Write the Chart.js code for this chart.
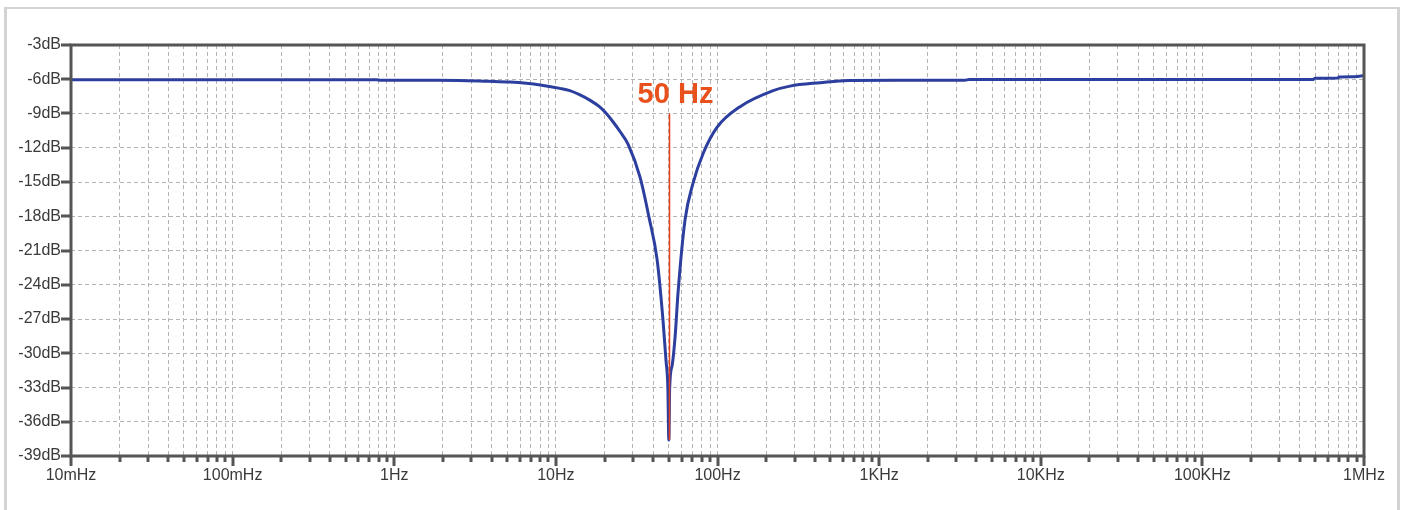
<!DOCTYPE html>
<html>
<head>
<meta charset="utf-8">
<script src="https://cdn.jsdelivr.net/npm/chart.js@4.4.1/dist/chart.umd.min.js"></script>
<style>
  html, body { margin: 0; padding: 0; background: #ffffff; overflow: hidden; }
  #wrap { position: relative; width: 1403px; height: 510px; }
  #frame { position: absolute; left: 4px; top: 7px; width: 1396px; height: 540px; box-sizing: border-box;
           border: 3px solid #d3d3d3; border-top-width: 2px; }
  canvas { position: absolute; left: 0; top: 0; }
</style>
</head>
<body>
<div id="wrap">
  <div id="frame"></div>
  <canvas id="c" width="1403" height="510"></canvas>
</div>
<script>
// ---- Data (frequency in Hz, gain in dB) ----
const freqHz = [0.01, 0.78, 0.82, 2.5, 3.8, 5.2, 8, 10.6, 12.2, 14, 16.3, 18.6, 20.2, 22.5, 25, 28, 33.2, 37.7, 42.3, 46, 48, 49.3, 50, 50.6, 52.5, 54.7, 57, 63, 70.6, 81.5, 99.5, 138, 221, 281, 431, 643, 3400, 3600, 480000, 500000, 690000, 700000, 880000, 1000000];
const gainDb = [-6.05, -6.05, -6.08, -6.1, -6.18, -6.25, -6.5, -6.8, -7.0, -7.35, -7.85, -8.4, -8.9, -9.7, -10.6, -11.7, -14.6, -18.1, -21.8, -27.1, -30.6, -33.0, -37.6, -33.0, -31.0, -28.5, -24.7, -18.3, -15.1, -12.5, -10.2, -8.4, -7.0, -6.6, -6.3, -6.1, -6.08, -6.03, -6.03, -5.92, -5.9, -5.8, -5.78, -5.68];

// Axis tick labels
const xDecades = [0.01, 0.1, 1, 10, 100, 1000, 10000, 100000, 1000000];
const xDecadeLabels = ['10mHz', '100mHz', '1Hz', '10Hz', '100Hz', '1KHz', '10KHz', '100KHz', '1MHz'];
const yTicks = [-3, -6, -9, -12, -15, -18, -21, -24, -27, -30, -33, -36, -39];
const yTickLabels = ['-3dB', '-6dB', '-9dB', '-12dB', '-15dB', '-18dB', '-21dB', '-24dB', '-27dB', '-30dB', '-33dB', '-36dB', '-39dB'];

// Marker annotation
const markerFreq = 50;
const markerLabel = '50 Hz';
const markerTopDb = -9;
const markerBottomDb = -37.6;

const points = freqHz.map((f, i) => ({ x: f, y: gainDb[i] }));

function isDecade(v) {
  const l = Math.log10(v);
  return Math.abs(l - Math.round(l)) < 1e-9;
}

const decor = {
  id: 'decor',
  afterDatasetsDraw(chart) {
    const { ctx, chartArea: a, scales: { x, y } } = chart;
    ctx.save();
    // plot frame
    ctx.strokeStyle = '#555555';
    ctx.lineWidth = 3;
    ctx.strokeRect(a.left, a.top, a.right - a.left, a.bottom - a.top);
    // y tick marks
    y.ticks.forEach(t => {
      const py = Math.round(y.getPixelForValue(t.value));
      ctx.beginPath(); ctx.moveTo(a.left - 10, py); ctx.lineTo(a.left, py); ctx.stroke();
    });
    // x tick marks
    x.ticks.forEach(t => {
      const px = Math.round(x.getPixelForValue(t.value));
      ctx.beginPath(); ctx.moveTo(px, a.bottom); ctx.lineTo(px, a.bottom + (isDecade(t.value) ? 10 : 6)); ctx.stroke();
    });
    // marker line + label
    const mx = Math.round(x.getPixelForValue(markerFreq)) + 0.5;
    const yTop = y.getPixelForValue(markerTopDb);
    const yBot = y.getPixelForValue(markerBottomDb);
    ctx.strokeStyle = '#e8401a';
    ctx.lineWidth = 1.5;
    ctx.beginPath(); ctx.moveTo(mx, yTop); ctx.lineTo(mx, yBot); ctx.stroke();
    ctx.fillStyle = '#e8501c';
    ctx.font = 'bold 29px "Liberation Sans", Arial, sans-serif';
    ctx.textAlign = 'center';
    ctx.textBaseline = 'alphabetic';
    ctx.fillText(markerLabel, mx + 6, yTop - 11);
    ctx.restore();
  }
};

const labelFont = { family: '"Liberation Sans", Arial, sans-serif', size: 16 };

new Chart(document.getElementById('c'), {
  type: 'scatter',
  data: {
    datasets: [{
      data: points,
      showLine: true,
      borderColor: '#2c3e9e',
      borderWidth: 3,
      pointRadius: 0,
      pointHoverRadius: 0,
      cubicInterpolationMode: 'monotone',
      fill: false
    }]
  },
  options: {
    responsive: false,
    devicePixelRatio: 1,
    animation: false,
    events: [],
    layout: { padding: { left: 0, top: 45, right: 39, bottom: 0 } },
    plugins: { legend: { display: false }, tooltip: { enabled: false }, title: { display: false } },
    scales: {
      x: {
        type: 'logarithmic',
        min: 0.01,
        max: 1000000,
        afterFit(scale) { scale.height = 54; },
        afterBuildTicks(scale) {
          const ticks = [];
          for (let d = 0; d < xDecades.length; d++) {
            const base = xDecades[d];
            ticks.push({ value: base });
            if (d < xDecades.length - 1) {
              for (let m = 2; m <= 9; m++) ticks.push({ value: base * m });
            }
          }
          scale.ticks = ticks;
        },
        ticks: {
          autoSkip: false,
          maxRotation: 0,
          minRotation: 0,
          padding: 10,
          color: '#3a3a3a',
          font: labelFont,
          callback(value) {
            for (let i = 0; i < xDecades.length; i++) {
              if (Math.abs(Math.log10(value) - Math.log10(xDecades[i])) < 1e-9) return xDecadeLabels[i];
            }
            return '';
          }
        },
        grid: { color: '#b4b4b4', lineWidth: 1, drawTicks: false },
        border: { display: false, dash: [4, 3] }
      },
      y: {
        min: -39,
        max: -3,
        afterFit(scale) { scale.width = 71; },
        afterBuildTicks(scale) { scale.ticks = yTicks.map(v => ({ value: v })); },
        ticks: {
          autoSkip: false,
          padding: 10,
          color: '#3a3a3a',
          font: labelFont,
          callback(value) {
            const i = yTicks.indexOf(value);
            return i >= 0 ? yTickLabels[i] : '';
          }
        },
        grid: { color: '#b4b4b4', lineWidth: 1, drawTicks: false },
        border: { display: false, dash: [4, 3] }
      }
    }
  },
  plugins: [decor]
});
</script>
</body>
</html>
